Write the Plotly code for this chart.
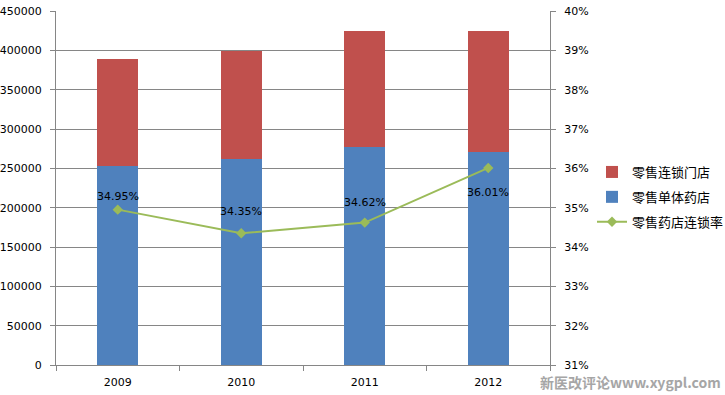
import plotly.graph_objects as go

years = ["2009", "2010", "2011", "2012"]
single_store = [253000, 262000, 277000, 271000]   # 零售单体药店
chain_store = [136000, 137000, 147000, 153000]    # 零售连锁门店
chain_rate = [0.3495, 0.3435, 0.3462, 0.3601]     # 零售药店连锁率
rate_labels = ["34.95%", "34.35%", "34.62%", "36.01%"]
label_shift = [13, 22, 20, -25]   # label offset from marker, px

W, H = 725, 395
L, R, T, B = 56, 175, 11, 30
pw = W - L - R
ph = H - T - B

num_font = dict(family="DejaVu Sans", size=11, color="#000000")
cjk = "Noto Sans CJK SC"

fig = go.Figure()
fig.add_trace(go.Bar(x=years, y=single_store, name="零售单体药店",
                     marker=dict(color="#4F81BD", line=dict(width=0)),
                     legendrank=2, legendgroup="b", hoverinfo="skip"))
fig.add_trace(go.Bar(x=years, y=chain_store, name="零售连锁门店",
                     marker=dict(color="#C0504D", line=dict(width=0)),
                     legendrank=1, legendgroup="a", hoverinfo="skip"))
fig.add_trace(go.Scatter(x=years, y=chain_rate, name="零售药店连锁率", yaxis="y2",
                         mode="lines+markers",
                         line=dict(color="#9BBB59", width=2),
                         marker=dict(symbol="diamond", size=8, color="#9BBB59"),
                         legendrank=3, legendgroup="c", hoverinfo="skip"))

annotations = []
for i, (r, t, s) in enumerate(zip(chain_rate, rate_labels, label_shift)):
    annotations.append(dict(x=i, y=r, xref="x", yref="y2", text=t, showarrow=False,
                            yshift=s, xanchor="center", yanchor="middle",
                            font=dict(family="DejaVu Sans", size=11, color="#000000")))
annotations.append(dict(text="新医改评论www.xygpl.com", xref="paper", yref="paper",
                        x=(723 - L) / pw, y=-(394 - 365) / ph, xanchor="right",
                        yanchor="bottom", showarrow=False,
                        font=dict(family=cjk, size=14, color="#A6A6A6", weight="bold")))

fig.update_layout(
    width=W, height=H,
    margin=dict(l=L, r=R, t=T, b=B, pad=0, autoexpand=False),
    paper_bgcolor="white", plot_bgcolor="white",
    barmode="stack", bargap=0.67,
    showlegend=True,
    legend=dict(x=(592 - L) / pw, y=(365 - 157) / ph, xref="paper", yref="paper",
                xanchor="left", yanchor="top", traceorder="grouped",
                font=dict(family=cjk, size=13, color="#000000"),
                bgcolor="rgba(0,0,0,0)", itemwidth=30, tracegroupgap=5),
    xaxis=dict(type="category", range=[-0.5, len(years) - 0.5], showgrid=False,
               showline=True, linecolor="#868686",
               linewidth=1, ticks="outside", tickson="boundaries", ticklen=5,
               tickcolor="#868686", tickfont=num_font, zeroline=False,
               ticklabelstandoff=7),
    yaxis=dict(range=[0, 450000], dtick=50000, tickformat="d", showgrid=True,
               gridcolor="#868686", gridwidth=1, showline=True, linecolor="#868686",
               ticks="outside", ticklen=5, tickcolor="#868686", tickfont=num_font,
               zeroline=False, ticklabelstandoff=6),
    yaxis2=dict(range=[0.31, 0.40], dtick=0.01, tickformat=".0%", overlaying="y",
                side="right", showgrid=False, showline=True, linecolor="#868686",
                ticks="outside", ticklen=5, tickcolor="#868686", tickfont=num_font,
                zeroline=False, ticklabelstandoff=6),
    annotations=annotations,
)

fig.write_html("out.html", config={"displayModeBar": False},
               post_script="document.body.style.margin='0';document.body.style.overflow='hidden';")
